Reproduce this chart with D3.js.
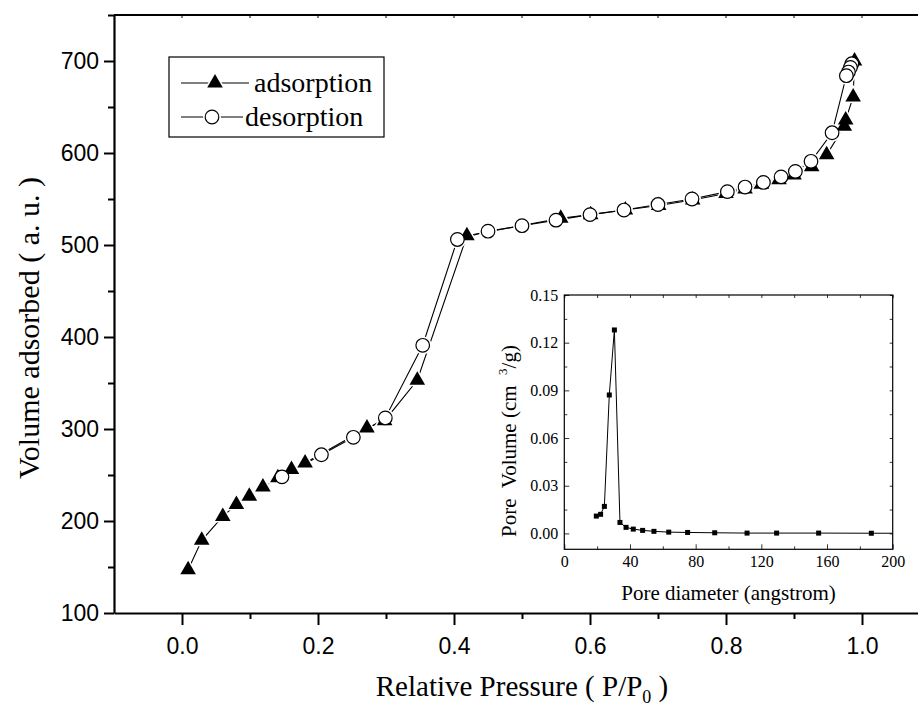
<!DOCTYPE html>
<html>
<head>
<meta charset="utf-8">
<script src="https://cdn.jsdelivr.net/npm/d3@7.9.0/dist/d3.min.js"></script>
<style>
  html, body { margin: 0; padding: 0; background: #fff; }
  svg { display: block; }
  .serif { font-family: 'Liberation Serif', 'Times New Roman', serif; }
  .sans { font-family: 'Liberation Sans', Arial, sans-serif; }
</style>
</head>
<body>
<svg id="chart" width="918" height="708"></svg>
<script>
// adsorption branch (filled triangles)
const adsP = [0.009, 0.029, 0.060, 0.080, 0.099, 0.119, 0.141, 0.161, 0.181, 0.272, 0.298, 0.346,
  0.419, 0.557, 0.601, 0.652, 0.701, 0.751, 0.800, 0.828, 0.852, 0.878, 0.900, 0.926, 0.948,
  0.974, 0.976, 0.987, 0.989];
const adsV = [147, 179, 205, 218, 227, 237, 247, 256, 263, 301, 309, 353,
  510, 529, 533, 538, 543, 549, 556, 561, 566, 571, 576, 585, 598,
  629, 636, 661, 700];
// desorption branch (open circles)
const desP = [0.985, 0.983, 0.980, 0.977, 0.956, 0.925, 0.902, 0.881, 0.855, 0.828, 0.802, 0.750,
  0.700, 0.650, 0.600, 0.550, 0.500, 0.450, 0.405, 0.354, 0.299, 0.252, 0.205, 0.147];
const desV = [697, 693, 688, 684, 622, 591, 580, 574, 568, 563, 558, 550,
  544, 538, 533, 527, 521, 515, 506, 391, 312, 291, 272, 248];
// inset: pore size distribution
const poreD = [19.5, 22.1, 24.4, 27.4, 30.5, 33.9, 37.6, 42.0, 47.7, 54.6, 63.6, 75.1, 91.6,
  111.3, 129.3, 154.9, 187.0, 210];
const poreV = [0.0109, 0.0120, 0.0170, 0.0871, 0.128, 0.0069, 0.0038, 0.0027, 0.0019, 0.0013,
  0.0008, 0.0006, 0.0004, 0.0002, 0.0002, 0.0002, 0.0001, 0.0001];

const xMajor = [0, 0.2, 0.4, 0.6, 0.8, 1.0];
const xMinor = [0.1, 0.3, 0.5, 0.7, 0.9, 1.1];
const yMajor = [100, 200, 300, 400, 500, 600, 700];
const yMinor = [150, 250, 350, 450, 550, 650, 750];
const inXTicks = [0, 40, 80, 120, 160, 200];
const inXMinor = [20, 60, 100, 140, 180];
const inYTicks = [0, 0.03, 0.06, 0.09, 0.12, 0.15];
const inYMinor = [0.015, 0.045, 0.075, 0.105, 0.135];

const svg = d3.select('#chart');

const x = d3.scaleLinear().domain([-0.1, 1.1]).range([114, 930]);
const y = d3.scaleLinear().domain([100, 750]).range([613, 15]);

// main axes
const gx = svg.append('g').attr('transform', `translate(0,${y(100)})`);
gx.call(d3.axisBottom(x).tickValues(xMajor).tickSize(12).tickSizeOuter(0).tickPadding(13)
  .tickFormat(d3.format('.1f')));
gx.append('g').call(d3.axisBottom(x).tickValues(xMinor).tickSize(6).tickFormat(''))
  .select('.domain').remove();

const gy = svg.append('g').attr('transform', `translate(${x(-0.1)},0)`);
gy.call(d3.axisLeft(y).tickValues(yMajor).tickSize(10).tickSizeOuter(0).tickPadding(5));
gy.append('g').call(d3.axisLeft(y).tickValues(yMinor).tickSize(6).tickFormat(''))
  .select('.domain').remove();

svg.selectAll('.domain').attr('stroke-width', 2.2);
svg.selectAll('.tick line').attr('stroke-width', 2);
svg.selectAll('.tick text').attr('class', 'sans').attr('font-size', 23).attr('fill', '#000');

// top border
svg.append('line')
  .attr('x1', x(-0.1)).attr('x2', 918).attr('y1', y(750)).attr('y2', y(750))
  .attr('stroke', '#000').attr('stroke-width', 2.2);
svg.append('g').selectAll('line').data(xMajor.concat(xMinor)).join('line')
  .attr('x1', d => x(d)).attr('x2', d => x(d))
  .attr('y1', y(750)).attr('y2', y(750) + 3)
  .attr('stroke', '#000').attr('stroke-width', 1);

// axis titles
svg.append('text').attr('class', 'serif').attr('font-size', 29)
  .attr('x', 522).attr('y', 696).attr('text-anchor', 'middle')
  .call(t => {
    t.append('tspan').text('Relative Pressure ( P/P');
    t.append('tspan').attr('font-size', 18).attr('dy', 7).text('0');
    t.append('tspan').attr('dy', -7).text(' )');
  });
svg.append('text').attr('class', 'serif').attr('font-size', 30)
  .attr('transform', 'translate(39,328) rotate(-90)').attr('text-anchor', 'middle')
  .text('Volume adsorbed ( a. u. )');

// curves
const pts = (ps, vs) => ps.map((p, i) => [x(p), y(vs[i])]);
const ads = pts(adsP, adsV);
const des = pts(desP, desV);
const line = d3.line();
svg.append('path').attr('d', line(ads)).attr('fill', 'none').attr('stroke', '#000').attr('stroke-width', 1.1);
svg.append('path').attr('d', line(des)).attr('fill', 'none').attr('stroke', '#000').attr('stroke-width', 1.1);

const tri = d3.symbol().type(d3.symbolTriangle);
// white halos leave small gaps in the lines around the symbols
svg.append('g').selectAll('path').data(ads).join('path')
  .attr('d', tri.size(190)()).attr('transform', d => `translate(${d[0]},${d[1]})`).attr('fill', '#fff');
svg.append('g').selectAll('circle').data(des).join('circle')
  .attr('cx', d => d[0]).attr('cy', d => d[1]).attr('r', 9).attr('fill', '#fff');
svg.append('g').selectAll('path').data(ads).join('path')
  .attr('d', tri.size(105)()).attr('transform', d => `translate(${d[0]},${d[1]})`).attr('fill', '#000');
svg.append('g').selectAll('circle').data(des).join('circle')
  .attr('cx', d => d[0]).attr('cy', d => d[1]).attr('r', 6.8)
  .attr('fill', '#fff').attr('stroke', '#000').attr('stroke-width', 1.2);

// legend
const lg = svg.append('g');
lg.append('rect').attr('x', 169).attr('y', 57).attr('width', 215).attr('height', 80)
  .attr('fill', '#fff').attr('stroke', '#000').attr('stroke-width', 1.2);
lg.append('line').attr('x1', 181).attr('x2', 249).attr('y1', 83).attr('y2', 83).attr('stroke', '#000').attr('stroke-width', 1.1);
lg.append('path').attr('d', tri.size(190)()).attr('transform', 'translate(215,83)').attr('fill', '#fff');
lg.append('path').attr('d', tri.size(105)()).attr('transform', 'translate(215,83)').attr('fill', '#000');
lg.append('text').attr('class', 'serif').attr('font-size', 28).attr('x', 254).attr('y', 92).text('adsorption');
lg.append('line').attr('x1', 181).attr('x2', 243).attr('y1', 117).attr('y2', 117).attr('stroke', '#000').attr('stroke-width', 1.1);
lg.append('circle').attr('cx', 212).attr('cy', 117).attr('r', 9).attr('fill', '#fff');
lg.append('circle').attr('cx', 212).attr('cy', 117).attr('r', 6.8).attr('fill', '#fff').attr('stroke', '#000').attr('stroke-width', 1.2);
lg.append('text').attr('class', 'serif').attr('font-size', 28).attr('x', 245).attr('y', 126).text('desorption');

// inset
const ix = d3.scaleLinear().domain([0, 200]).range([564.3, 892.7]);
const iy = d3.scaleLinear().domain([-0.01, 0.15]).range([549.3, 295]);
const ins = svg.append('g');
ins.append('rect').attr('x', ix(0)).attr('y', iy(0.15)).attr('width', ix(200) - ix(0)).attr('height', iy(-0.01) - iy(0.15))
  .attr('fill', '#fff').attr('stroke', '#000').attr('stroke-width', 1.2);

const iax = (g, axis) => { g.call(axis); g.select('.domain').remove(); };
ins.append('g').attr('transform', `translate(0,${iy(-0.01)})`)
  .call(g => iax(g, d3.axisBottom(ix).tickValues(inXTicks).tickSize(-5).tickPadding(6).tickFormat(d3.format('d'))));
ins.append('g').attr('transform', `translate(0,${iy(-0.01)})`)
  .call(g => iax(g, d3.axisBottom(ix).tickValues(inXMinor).tickSize(-3).tickFormat('')));
ins.append('g').attr('transform', `translate(0,${iy(0.15)})`)
  .call(g => iax(g, d3.axisTop(ix).tickValues(inXTicks.concat(inXMinor)).tickSize(-3).tickFormat('')));
ins.append('g').attr('transform', `translate(${ix(0)},0)`)
  .call(g => iax(g, d3.axisLeft(iy).tickValues(inYTicks).tickSize(-5).tickPadding(6).tickFormat(d3.format('.2f'))));
ins.append('g').attr('transform', `translate(${ix(0)},0)`)
  .call(g => iax(g, d3.axisLeft(iy).tickValues(inYMinor).tickSize(-3).tickFormat('')));
ins.append('g').attr('transform', `translate(${ix(200)},0)`)
  .call(g => iax(g, d3.axisRight(iy).tickValues(inYTicks.concat(inYMinor)).tickSize(-3).tickFormat('')));
ins.selectAll('.tick line').attr('stroke-width', 0.8);
ins.selectAll('.tick text').attr('class', 'serif').attr('font-size', 16).attr('fill', '#000');

svg.append('clipPath').attr('id', 'inclip').append('rect')
  .attr('x', ix(0)).attr('y', iy(0.15)).attr('width', ix(200) - ix(0)).attr('height', iy(-0.01) - iy(0.15));
const ipts = poreD.map((d, i) => [ix(d), iy(poreV[i])]);
const ic = ins.append('g').attr('clip-path', 'url(#inclip)');
ic.append('path').attr('d', line(ipts)).attr('fill', 'none').attr('stroke', '#000').attr('stroke-width', 1);
ic.selectAll('rect').data(ipts).join('rect')
  .attr('x', d => d[0] - 2.5).attr('y', d => d[1] - 2.5).attr('width', 5).attr('height', 5).attr('fill', '#000');

ins.append('text').attr('class', 'serif').attr('font-size', 21)
  .attr('x', (ix(0) + ix(200)) / 2).attr('y', 600).attr('text-anchor', 'middle')
  .text('Pore diameter (angstrom)');
ins.append('text').attr('class', 'serif').attr('font-size', 21).style('white-space', 'pre')
  .attr('transform', 'translate(516,441) rotate(-90)').attr('text-anchor', 'middle')
  .call(t => {
    t.append('tspan').text('Pore  Volume (cm  ');
    t.append('tspan').attr('font-size', 13).attr('dy', -9).text('3');
    t.append('tspan').attr('dy', 9).text('/g)');
  });
</script>
</body>
</html>
